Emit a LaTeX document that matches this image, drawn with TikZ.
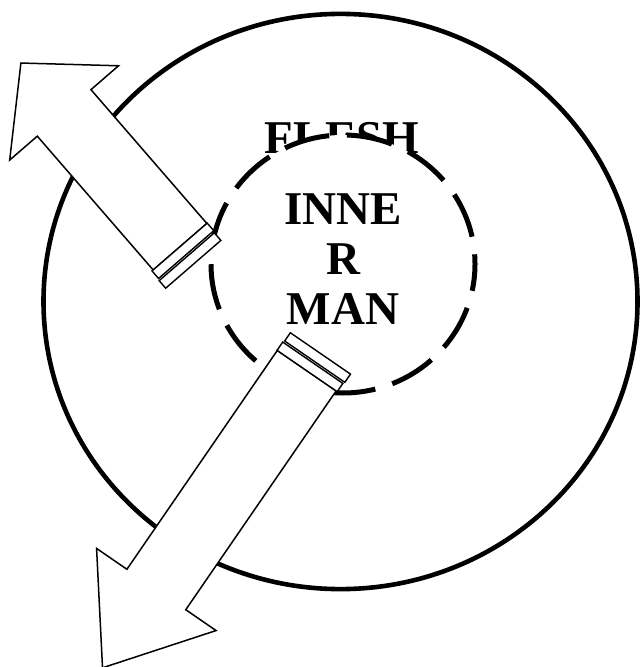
\documentclass[tikz,border=0pt]{standalone}
\usepackage{fontspec}
\setmainfont{Liberation Serif}
\begin{document}
\begin{tikzpicture}[x=0.5pt, y=-0.5pt,
    outerring/.style={line width=2.3pt},
    innerring/.style={line width=2.5pt, dash pattern=on 23pt off 8.9pt, dash phase=9.5pt, fill=white},
    wordtext/.style={font=\fontsize{23.5}{25}\selectfont\bfseries, inner sep=0pt},
    blockarrow/.style={draw, fill=white, line width=0.75pt, line join=miter},
    band/.style={draw, fill=white, line width=0.7pt}]
    \useasboundingbox (0,0) rectangle (639,667);

    % Circulo exterior
    \draw[outerring] (340.5,301.5) ellipse [x radius=297, y radius=287.6];

    % Texto exterior (tapado en parte por el circulo interior)
    \node[wordtext, anchor=base] (flesh) at (342,154) {FLESH};

    % Circulo interior punteado
    \draw[innerring] (343,264) ellipse [x radius=132, y radius=129];
    \node[wordtext, align=center] (inner) at (343,259) {INNE\\R\\MAN};

    % Flecha superior
    \begin{scope}[shift={(180,246.7)}, x=0.5pt, y=0.5pt, rotate=130.9]
        \draw[blockarrow] (0,-35.5) -- (177,-35.5) -- (177,-72) -- (243,0)
            -- (177,72) -- (177,35.5) -- (0,35.5) -- cycle;
        \draw[band] (0,-36) rectangle (-10,37);
        \draw[band] (-12,-35) rectangle (-22,38);
    \end{scope}

    % Flecha inferior
    \begin{scope}[shift={(306.7,370.7)}, x=0.5pt, y=0.5pt, rotate=235.5]
        \draw[blockarrow] (0,-35.7) -- (265.5,-35.7) -- (265.5,-72.5) -- (360.5,0)
            -- (265.5,72.5) -- (265.5,35.7) -- (0,35.7) -- cycle;
        \draw[band] (0,-36) rectangle (-10,37);
        \draw[band] (-12,-35) rectangle (-22,38);
    \end{scope}
\end{tikzpicture}
\end{document}
